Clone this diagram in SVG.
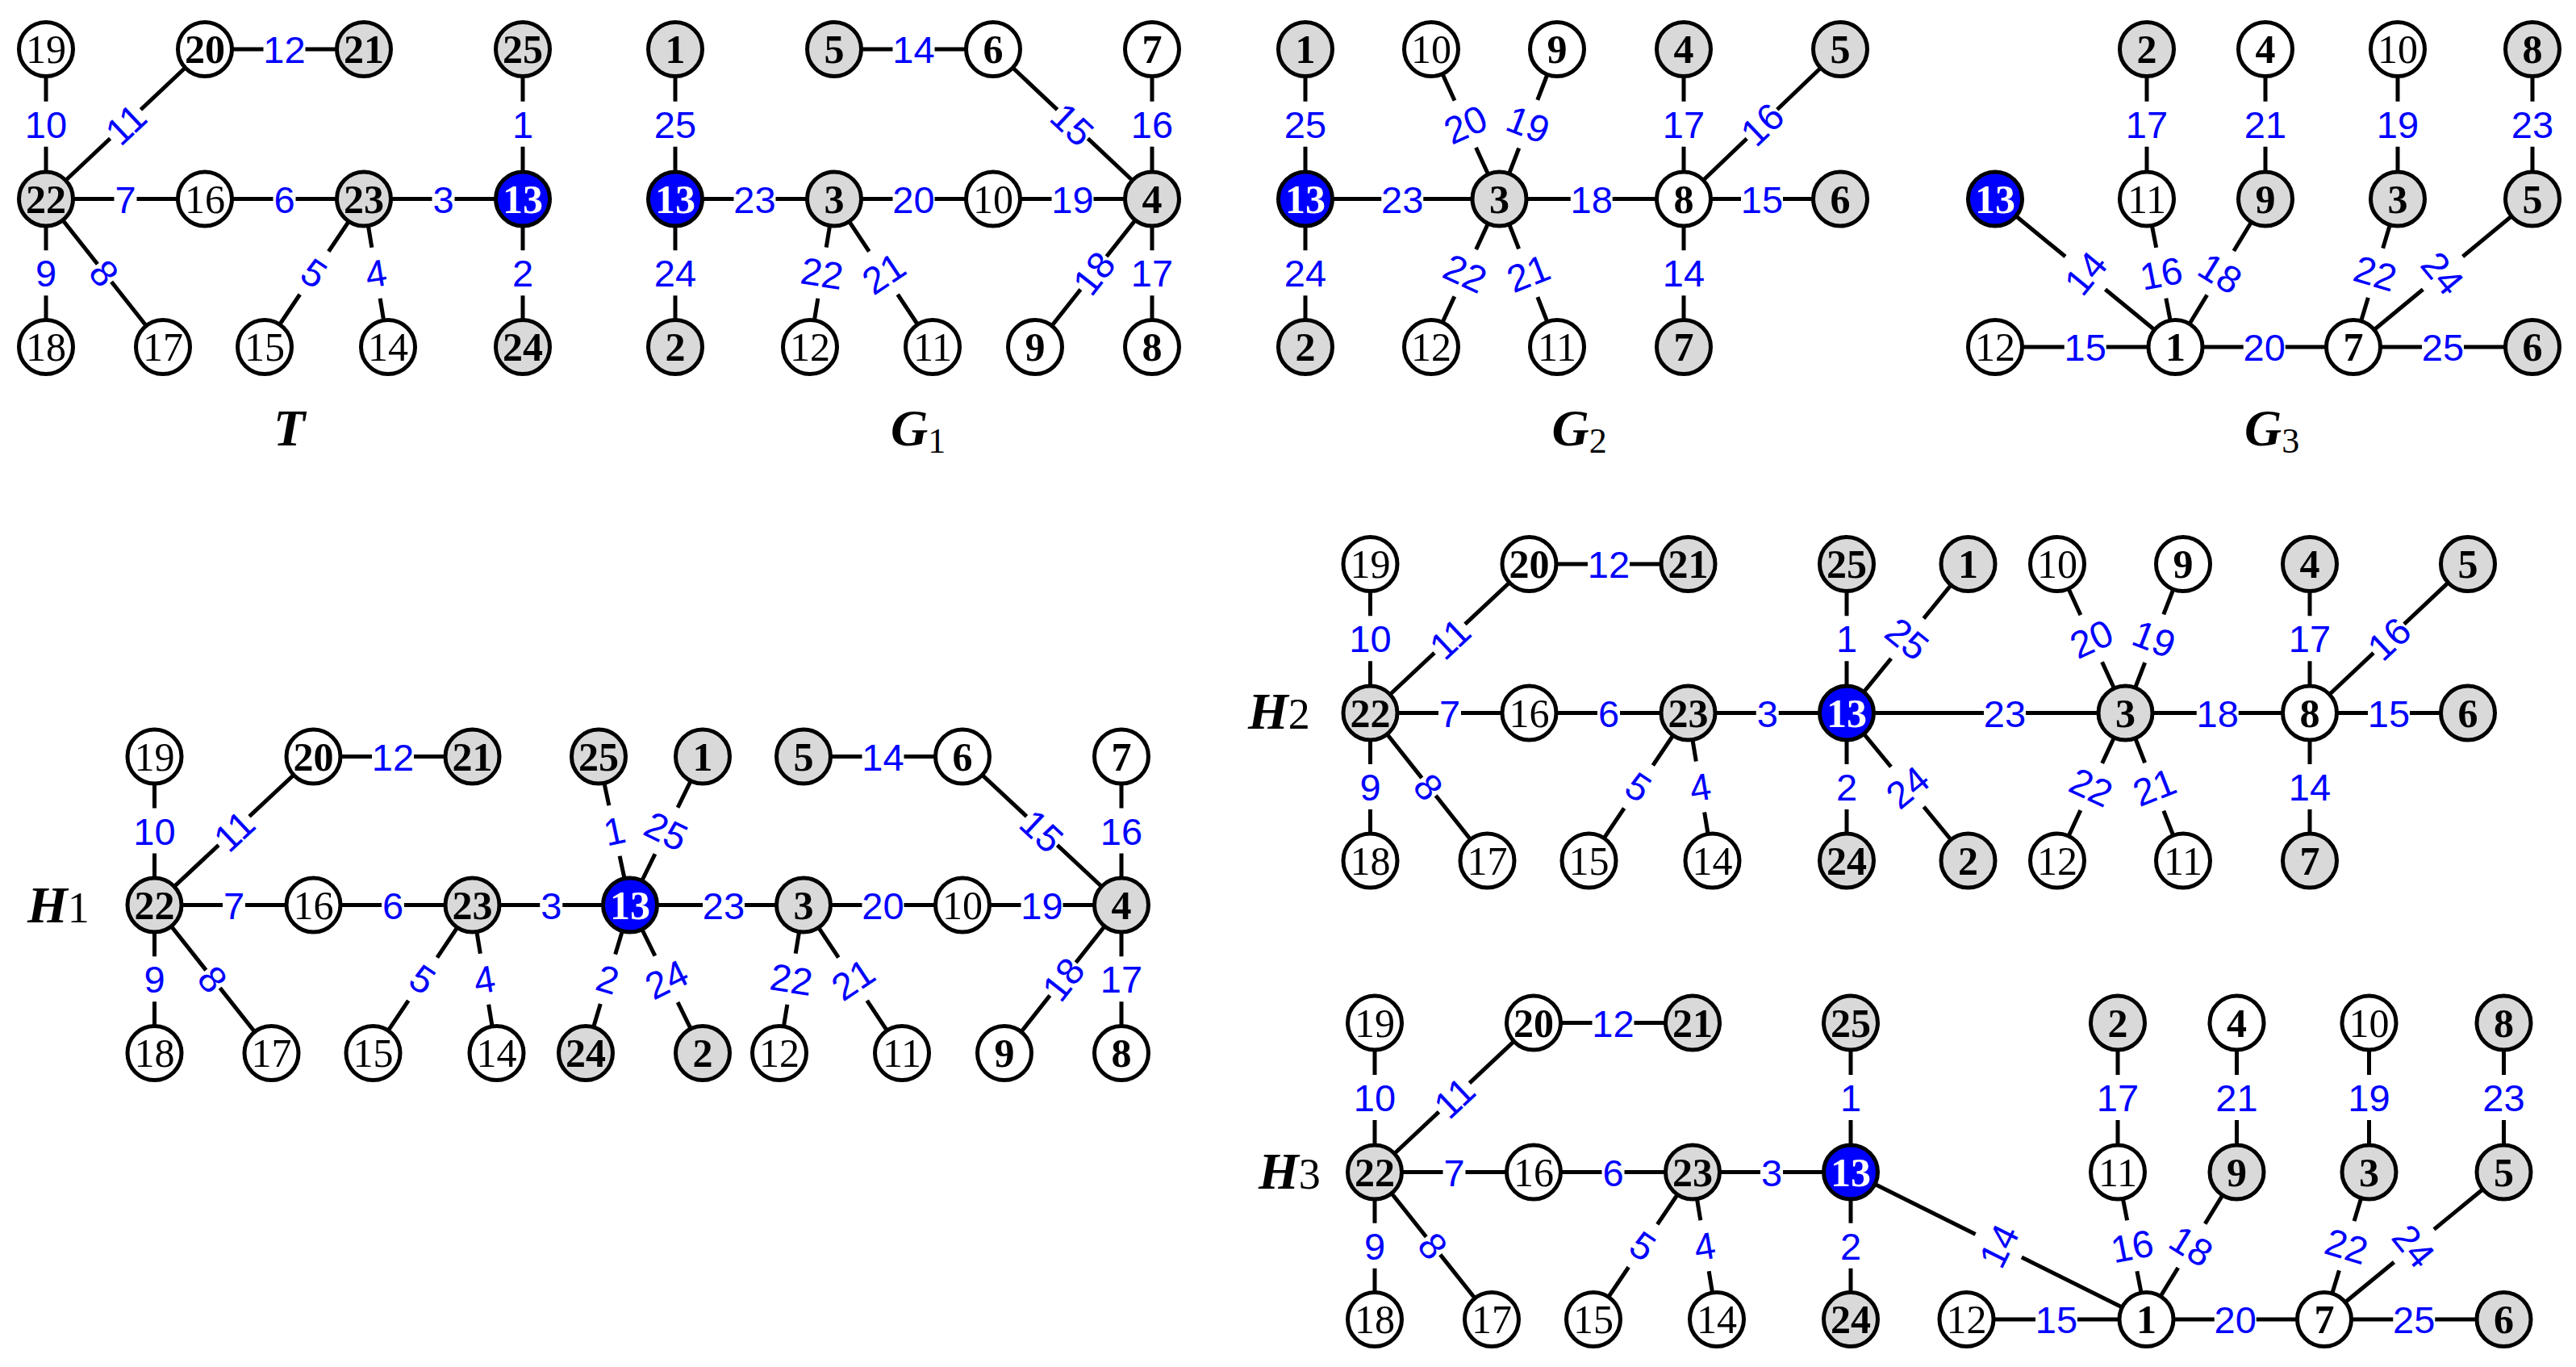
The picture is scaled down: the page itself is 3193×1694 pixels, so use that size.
<svg xmlns="http://www.w3.org/2000/svg" xmlns:xlink="http://www.w3.org/1999/xlink" width="3193" height="1694" viewBox="0 0 3193 1694">
<style>
.n circle{stroke:#000;stroke-width:5}
.w circle{fill:#fff}
.g circle{fill:#d9d9d9}
.b circle{fill:#0000ff}
.n text{font-family:"Liberation Serif","Times New Roman",serif;font-size:50px;font-weight:bold;text-anchor:middle;fill:#000}
.n text.r{font-weight:normal}
.b text{fill:#fff}
.e line{stroke:#000;stroke-width:5}
.l text{font-family:"Liberation Sans",Arial,sans-serif;font-size:47px;fill:#0000ff;text-anchor:middle}
.cap{font-family:"Liberation Serif","Times New Roman",serif;font-style:italic;font-weight:bold;font-size:64px;fill:#000}
.sub{font-style:normal;font-weight:normal;font-size:44px}
.hs{font-style:normal;font-weight:normal;font-size:54px}
</style>
<defs>
<rect id="r1" x="-14" y="-28" width="28" height="56" fill="#fff"/>
<rect id="r2" x="-26" y="-28" width="52" height="56" fill="#fff"/>
<rect id="q1" x="-14" y="-32" width="28" height="64" fill="#fff"/>
<rect id="q2" x="-26" y="-32" width="52" height="64" fill="#fff"/>
</defs>
<rect x="0" y="0" width="3193" height="1694" fill="#fff"/>

<g id="connectors">
<g class="e">
<!-- T -->
<line x1="57" y1="61" x2="57" y2="246.5"/>
<line x1="254" y1="61" x2="57" y2="246.5"/>
<line x1="254" y1="61" x2="451" y2="61"/>
<line x1="57" y1="246.5" x2="254" y2="246.5"/>
<line x1="254" y1="246.5" x2="451" y2="246.5"/>
<line x1="451" y1="246.5" x2="648" y2="246.5"/>
<line x1="648" y1="61" x2="648" y2="246.5"/>
<line x1="648" y1="246.5" x2="648" y2="430"/>
<line x1="57" y1="246.5" x2="57" y2="430"/>
<line x1="57" y1="246.5" x2="202" y2="430"/>
<line x1="451" y1="246.5" x2="328" y2="430"/>
<line x1="451" y1="246.5" x2="481" y2="430"/>
<!-- G1 -->
<line x1="837" y1="61" x2="837" y2="246.5"/>
<line x1="837" y1="246.5" x2="837" y2="430"/>
<line x1="837" y1="246.5" x2="1034" y2="246.5"/>
<line x1="1034" y1="61" x2="1231" y2="61"/>
<line x1="1231" y1="61" x2="1428" y2="246.5"/>
<line x1="1428" y1="61" x2="1428" y2="246.5"/>
<line x1="1034" y1="246.5" x2="1231" y2="246.5"/>
<line x1="1231" y1="246.5" x2="1428" y2="246.5"/>
<line x1="1034" y1="246.5" x2="1004" y2="430"/>
<line x1="1034" y1="246.5" x2="1156" y2="430"/>
<line x1="1428" y1="246.5" x2="1283" y2="430"/>
<line x1="1428" y1="246.5" x2="1428" y2="430"/>
<!-- G2 -->
<line x1="1618" y1="61" x2="1618" y2="246.5"/>
<line x1="1618" y1="246.5" x2="1618" y2="430"/>
<line x1="1618" y1="246.5" x2="1858.5" y2="246.5"/>
<line x1="1858.5" y1="246.5" x2="1774" y2="61"/>
<line x1="1858.5" y1="246.5" x2="1930" y2="61"/>
<line x1="1858.5" y1="246.5" x2="1774" y2="430"/>
<line x1="1858.5" y1="246.5" x2="1930" y2="430"/>
<line x1="1858.5" y1="246.5" x2="2087" y2="246.5"/>
<line x1="2087" y1="61" x2="2087" y2="246.5"/>
<line x1="2087" y1="246.5" x2="2281" y2="61"/>
<line x1="2087" y1="246.5" x2="2281" y2="246.5"/>
<line x1="2087" y1="246.5" x2="2087" y2="430"/>
<!-- G3 -->
<line x1="2661" y1="61" x2="2661" y2="246.5"/>
<line x1="2808" y1="61" x2="2808" y2="246.5"/>
<line x1="2972" y1="61" x2="2972" y2="246.5"/>
<line x1="3139" y1="61" x2="3139" y2="246.5"/>
<line x1="2473" y1="246.5" x2="2696.5" y2="430"/>
<line x1="2661" y1="246.5" x2="2696.5" y2="430"/>
<line x1="2808" y1="246.5" x2="2696.5" y2="430"/>
<line x1="2972" y1="246.5" x2="2917" y2="430"/>
<line x1="3139" y1="246.5" x2="2917" y2="430"/>
<line x1="2473" y1="430" x2="2696.5" y2="430"/>
<line x1="2696.5" y1="430" x2="2917" y2="430"/>
<line x1="2917" y1="430" x2="3139" y2="430"/>
<!-- H1 -->
<line x1="191.5" y1="937.5" x2="191.5" y2="1121.5"/>
<line x1="388.5" y1="937.5" x2="191.5" y2="1121.5"/>
<line x1="388.5" y1="937.5" x2="585.5" y2="937.5"/>
<line x1="191.5" y1="1121.5" x2="388.5" y2="1121.5"/>
<line x1="388.5" y1="1121.5" x2="585.5" y2="1121.5"/>
<line x1="585.5" y1="1121.5" x2="781" y2="1121.5"/>
<line x1="191.5" y1="1121.5" x2="191.5" y2="1305"/>
<line x1="191.5" y1="1121.5" x2="336.5" y2="1305"/>
<line x1="585.5" y1="1121.5" x2="462.5" y2="1305"/>
<line x1="585.5" y1="1121.5" x2="615.5" y2="1305"/>
<line x1="742" y1="937.5" x2="781" y2="1121.5"/>
<line x1="871" y1="937.5" x2="781" y2="1121.5"/>
<line x1="781" y1="1121.5" x2="726" y2="1305"/>
<line x1="781" y1="1121.5" x2="871" y2="1305"/>
<line x1="781" y1="1121.5" x2="996" y2="1121.5"/>
<line x1="996" y1="937.5" x2="1193" y2="937.5"/>
<line x1="1193" y1="937.5" x2="1390" y2="1121.5"/>
<line x1="1390" y1="937.5" x2="1390" y2="1121.5"/>
<line x1="996" y1="1121.5" x2="1193" y2="1121.5"/>
<line x1="1193" y1="1121.5" x2="1390" y2="1121.5"/>
<line x1="996" y1="1121.5" x2="966" y2="1305"/>
<line x1="996" y1="1121.5" x2="1118" y2="1305"/>
<line x1="1390" y1="1121.5" x2="1245" y2="1305"/>
<line x1="1390" y1="1121.5" x2="1390" y2="1305"/>
<!-- H2 -->
<line x1="1698.5" y1="699" x2="1698.5" y2="883.5"/>
<line x1="1895.5" y1="699" x2="1698.5" y2="883.5"/>
<line x1="1895.5" y1="699" x2="2092.5" y2="699"/>
<line x1="1698.5" y1="883.5" x2="1895.5" y2="883.5"/>
<line x1="1895.5" y1="883.5" x2="2092.5" y2="883.5"/>
<line x1="2092.5" y1="883.5" x2="2289" y2="883.5"/>
<line x1="1698.5" y1="883.5" x2="1698.5" y2="1066.5"/>
<line x1="1698.5" y1="883.5" x2="1843.5" y2="1066.5"/>
<line x1="2092.5" y1="883.5" x2="1969.5" y2="1066.5"/>
<line x1="2092.5" y1="883.5" x2="2122.5" y2="1066.5"/>
<line x1="2289" y1="699" x2="2289" y2="883.5"/>
<line x1="2289" y1="883.5" x2="2289" y2="1066.5"/>
<line x1="2289" y1="883.5" x2="2439.5" y2="699"/>
<line x1="2289" y1="883.5" x2="2439.5" y2="1066.5"/>
<line x1="2289" y1="883.5" x2="2634.5" y2="883.5"/>
<line x1="2634.5" y1="883.5" x2="2550" y2="699"/>
<line x1="2634.5" y1="883.5" x2="2706" y2="699"/>
<line x1="2634.5" y1="883.5" x2="2550" y2="1066.5"/>
<line x1="2634.5" y1="883.5" x2="2706" y2="1066.5"/>
<line x1="2634.5" y1="883.5" x2="2863" y2="883.5"/>
<line x1="2863" y1="699" x2="2863" y2="883.5"/>
<line x1="2863" y1="883.5" x2="3059" y2="699"/>
<line x1="2863" y1="883.5" x2="3059" y2="883.5"/>
<line x1="2863" y1="883.5" x2="2863" y2="1066.5"/>
<!-- H3 -->
<line x1="1704" y1="1267.5" x2="1704" y2="1452.5"/>
<line x1="1901" y1="1267.5" x2="1704" y2="1452.5"/>
<line x1="1901" y1="1267.5" x2="2098" y2="1267.5"/>
<line x1="1704" y1="1452.5" x2="1901" y2="1452.5"/>
<line x1="1901" y1="1452.5" x2="2098" y2="1452.5"/>
<line x1="2098" y1="1452.5" x2="2294" y2="1452.5"/>
<line x1="1704" y1="1452.5" x2="1704" y2="1635"/>
<line x1="1704" y1="1452.5" x2="1849" y2="1635"/>
<line x1="2098" y1="1452.5" x2="1975" y2="1635"/>
<line x1="2098" y1="1452.5" x2="2128" y2="1635"/>
<line x1="2294" y1="1267.5" x2="2294" y2="1452.5"/>
<line x1="2294" y1="1452.5" x2="2294" y2="1635"/>
<line x1="2294" y1="1452.5" x2="2660.5" y2="1635"/>
<line x1="2625" y1="1267.5" x2="2625" y2="1452.5"/>
<line x1="2772.5" y1="1267.5" x2="2772.5" y2="1452.5"/>
<line x1="2936.5" y1="1267.5" x2="2936.5" y2="1452.5"/>
<line x1="3103.5" y1="1267.5" x2="3103.5" y2="1452.5"/>
<line x1="2625" y1="1452.5" x2="2660.5" y2="1635"/>
<line x1="2772.5" y1="1452.5" x2="2660.5" y2="1635"/>
<line x1="2936.5" y1="1452.5" x2="2881" y2="1635"/>
<line x1="3103.5" y1="1452.5" x2="2881" y2="1635"/>
<line x1="2437.5" y1="1635" x2="2660.5" y2="1635"/>
<line x1="2660.5" y1="1635" x2="2881" y2="1635"/>
<line x1="2881" y1="1635" x2="3103.5" y2="1635"/>
</g>
<g class="l">
<!-- T labels -->
<g transform="translate(57,153.75)"><use href="#r2"/><text y="17">10</text></g>
<g transform="translate(155.5,153.75) rotate(-43.28)"><use href="#r2"/><text y="17">11</text></g>
<g transform="translate(352.5,61)"><use href="#r2"/><text y="17">12</text></g>
<g transform="translate(155.5,246.5)"><use href="#r1"/><text y="17">7</text></g>
<g transform="translate(352.5,246.5)"><use href="#r1"/><text y="17">6</text></g>
<g transform="translate(549.5,246.5)"><use href="#r1"/><text y="17">3</text></g>
<g transform="translate(648,153.75)"><use href="#r1"/><text y="17">1</text></g>
<g transform="translate(648,338.25)"><use href="#r1"/><text y="17">2</text></g>
<g transform="translate(57,338.25)"><use href="#r1"/><text y="17">9</text></g>
<g transform="translate(129.5,338.25) rotate(51.68)"><use href="#r1"/><text y="17">8</text></g>
<g transform="translate(389.5,338.25) rotate(33.84)"><use href="#q1"/><text y="17">5</text></g>
<g transform="translate(466,338.25) rotate(-9.29)"><use href="#q1"/><text y="17">4</text></g>
<!-- G1 labels -->
<g transform="translate(837,153.75)"><use href="#r2"/><text y="17">25</text></g>
<g transform="translate(837,338.25)"><use href="#r2"/><text y="17">24</text></g>
<g transform="translate(935.5,246.5)"><use href="#r2"/><text y="17">23</text></g>
<g transform="translate(1132.5,61)"><use href="#r2"/><text y="17">14</text></g>
<g transform="translate(1329.5,153.75) rotate(43.28)"><use href="#r2"/><text y="17">15</text></g>
<g transform="translate(1428,153.75)"><use href="#r2"/><text y="17">16</text></g>
<g transform="translate(1132.5,246.5)"><use href="#r2"/><text y="17">20</text></g>
<g transform="translate(1329.5,246.5)"><use href="#r2"/><text y="17">19</text></g>
<g transform="translate(1019,338.25) rotate(9.29)"><use href="#q2"/><text y="17">22</text></g>
<g transform="translate(1095,338.25) rotate(-33.62)"><use href="#q2"/><text y="17">21</text></g>
<g transform="translate(1355.5,338.25) rotate(-51.68)"><use href="#r2"/><text y="17">18</text></g>
<g transform="translate(1428,338.25)"><use href="#r2"/><text y="17">17</text></g>
<!-- G2 labels -->
<g transform="translate(1618,153.75)"><use href="#r2"/><text y="17">25</text></g>
<g transform="translate(1618,338.25)"><use href="#r2"/><text y="17">24</text></g>
<g transform="translate(1738.25,246.5)"><use href="#r2"/><text y="17">23</text></g>
<g transform="translate(1816.25,153.75) rotate(-24.49)"><use href="#q2"/><text y="17">20</text></g>
<g transform="translate(1894.25,153.75) rotate(21.08)"><use href="#q2"/><text y="17">19</text></g>
<g transform="translate(1816.25,338.25) rotate(24.73)"><use href="#q2"/><text y="17">22</text></g>
<g transform="translate(1894.25,338.25) rotate(-21.29)"><use href="#q2"/><text y="17">21</text></g>
<g transform="translate(1972.75,246.5)"><use href="#r2"/><text y="17">18</text></g>
<g transform="translate(2087,153.75)"><use href="#r2"/><text y="17">17</text></g>
<g transform="translate(2184,153.75) rotate(-43.72)"><use href="#r2"/><text y="17">16</text></g>
<g transform="translate(2184,246.5)"><use href="#r2"/><text y="17">15</text></g>
<g transform="translate(2087,338.25)"><use href="#r2"/><text y="17">14</text></g>
<!-- G3 labels -->
<g transform="translate(2661,153.75)"><use href="#r2"/><text y="17">17</text></g>
<g transform="translate(2808,153.75)"><use href="#r2"/><text y="17">21</text></g>
<g transform="translate(2972,153.75)"><use href="#r2"/><text y="17">19</text></g>
<g transform="translate(3139,153.75)"><use href="#r2"/><text y="17">23</text></g>
<g transform="translate(2584.75,338.25) rotate(-50.61)"><use href="#q2"/><text y="17">14</text></g>
<g transform="translate(2678.75,338.25) rotate(-10.95)"><use href="#q2"/><text y="17">16</text></g>
<g transform="translate(2752.25,338.25) rotate(31.28)"><use href="#q2"/><text y="17">18</text></g>
<g transform="translate(2944.5,338.25) rotate(16.69)"><use href="#q2"/><text y="17">22</text></g>
<g transform="translate(3028,338.25) rotate(50.42)"><use href="#q2"/><text y="17">24</text></g>
<g transform="translate(2584.75,430)"><use href="#r2"/><text y="17">15</text></g>
<g transform="translate(2806.75,430)"><use href="#r2"/><text y="17">20</text></g>
<g transform="translate(3028,430)"><use href="#r2"/><text y="17">25</text></g>
<!-- H1 labels -->
<g transform="translate(191.5,1029.5)"><use href="#r2"/><text y="17">10</text></g>
<g transform="translate(290,1029.5) rotate(-43.04)"><use href="#r2"/><text y="17">11</text></g>
<g transform="translate(487,937.5)"><use href="#r2"/><text y="17">12</text></g>
<g transform="translate(290,1121.5)"><use href="#r1"/><text y="17">7</text></g>
<g transform="translate(487,1121.5)"><use href="#r1"/><text y="17">6</text></g>
<g transform="translate(683.25,1121.5)"><use href="#r1"/><text y="17">3</text></g>
<g transform="translate(191.5,1213.25)"><use href="#r1"/><text y="17">9</text></g>
<g transform="translate(264,1213.25) rotate(51.68)"><use href="#r1"/><text y="17">8</text></g>
<g transform="translate(524,1213.25) rotate(33.84)"><use href="#q1"/><text y="17">5</text></g>
<g transform="translate(600.5,1213.25) rotate(-9.29)"><use href="#q1"/><text y="17">4</text></g>
<g transform="translate(761.5,1029.5) rotate(-11.97)"><use href="#q1"/><text y="17">1</text></g>
<g transform="translate(826,1029.5) rotate(26.07)"><use href="#q2"/><text y="17">25</text></g>
<g transform="translate(753.5,1213.25) rotate(16.69)"><use href="#q1"/><text y="17">2</text></g>
<g transform="translate(826,1213.25) rotate(-26.13)"><use href="#q2"/><text y="17">24</text></g>
<g transform="translate(897,1121.5)"><use href="#r2"/><text y="17">23</text></g>
<g transform="translate(1094.5,937.5)"><use href="#r2"/><text y="17">14</text></g>
<g transform="translate(1291.5,1029.5) rotate(43.04)"><use href="#r2"/><text y="17">15</text></g>
<g transform="translate(1390,1029.5)"><use href="#r2"/><text y="17">16</text></g>
<g transform="translate(1094.5,1121.5)"><use href="#r2"/><text y="17">20</text></g>
<g transform="translate(1291.5,1121.5)"><use href="#r2"/><text y="17">19</text></g>
<g transform="translate(981,1213.25) rotate(9.29)"><use href="#q2"/><text y="17">22</text></g>
<g transform="translate(1057,1213.25) rotate(-33.62)"><use href="#q2"/><text y="17">21</text></g>
<g transform="translate(1317.5,1213.25) rotate(-51.68)"><use href="#r2"/><text y="17">18</text></g>
<g transform="translate(1390,1213.25)"><use href="#r2"/><text y="17">17</text></g>
<!-- H2 labels -->
<g transform="translate(1698.5,791.25)"><use href="#r2"/><text y="17">10</text></g>
<g transform="translate(1797,791.25) rotate(-43.13)"><use href="#r2"/><text y="17">11</text></g>
<g transform="translate(1994,699)"><use href="#r2"/><text y="17">12</text></g>
<g transform="translate(1797,883.5)"><use href="#r1"/><text y="17">7</text></g>
<g transform="translate(1994,883.5)"><use href="#r1"/><text y="17">6</text></g>
<g transform="translate(2190.75,883.5)"><use href="#r1"/><text y="17">3</text></g>
<g transform="translate(1698.5,975)"><use href="#r1"/><text y="17">9</text></g>
<g transform="translate(1771,975) rotate(51.61)"><use href="#r1"/><text y="17">8</text></g>
<g transform="translate(2031,975) rotate(33.9)"><use href="#q1"/><text y="17">5</text></g>
<g transform="translate(2107.5,975) rotate(-9.31)"><use href="#q1"/><text y="17">4</text></g>
<g transform="translate(2289,791.25)"><use href="#r1"/><text y="17">1</text></g>
<g transform="translate(2289,975)"><use href="#r1"/><text y="17">2</text></g>
<g transform="translate(2364.25,791.25) rotate(39.2)"><use href="#q2"/><text y="17">25</text></g>
<g transform="translate(2364.25,975) rotate(-39.44)"><use href="#q2"/><text y="17">24</text></g>
<g transform="translate(2485,883.5)"><use href="#r2"/><text y="17">23</text></g>
<g transform="translate(2592.25,791.25) rotate(-24.61)"><use href="#q2"/><text y="17">20</text></g>
<g transform="translate(2670.25,791.25) rotate(21.18)"><use href="#q2"/><text y="17">19</text></g>
<g transform="translate(2592.25,975) rotate(24.79)"><use href="#q2"/><text y="17">22</text></g>
<g transform="translate(2670.25,975) rotate(-21.34)"><use href="#q2"/><text y="17">21</text></g>
<g transform="translate(2748.75,883.5)"><use href="#r2"/><text y="17">18</text></g>
<g transform="translate(2863,791.25)"><use href="#r2"/><text y="17">17</text></g>
<g transform="translate(2961,791.25) rotate(-43.27)"><use href="#r2"/><text y="17">16</text></g>
<g transform="translate(2961,883.5)"><use href="#r2"/><text y="17">15</text></g>
<g transform="translate(2863,975)"><use href="#r2"/><text y="17">14</text></g>
<!-- H3 labels -->
<g transform="translate(1704,1360)"><use href="#r2"/><text y="17">10</text></g>
<g transform="translate(1802.5,1360) rotate(-43.2)"><use href="#r2"/><text y="17">11</text></g>
<g transform="translate(1999.5,1267.5)"><use href="#r2"/><text y="17">12</text></g>
<g transform="translate(1802.5,1452.5)"><use href="#r1"/><text y="17">7</text></g>
<g transform="translate(1999.5,1452.5)"><use href="#r1"/><text y="17">6</text></g>
<g transform="translate(2196,1452.5)"><use href="#r1"/><text y="17">3</text></g>
<g transform="translate(1704,1543.75)"><use href="#r1"/><text y="17">9</text></g>
<g transform="translate(1776.5,1543.75) rotate(51.53)"><use href="#r1"/><text y="17">8</text></g>
<g transform="translate(2036.5,1543.75) rotate(33.98)"><use href="#q1"/><text y="17">5</text></g>
<g transform="translate(2113,1543.75) rotate(-9.34)"><use href="#q1"/><text y="17">4</text></g>
<g transform="translate(2294,1360)"><use href="#r1"/><text y="17">1</text></g>
<g transform="translate(2294,1543.75)"><use href="#r1"/><text y="17">2</text></g>
<g transform="translate(2477.25,1543.75) rotate(-63.53)"><use href="#q2"/><text y="17">14</text></g>
<g transform="translate(2625,1360)"><use href="#r2"/><text y="17">17</text></g>
<g transform="translate(2772.5,1360)"><use href="#r2"/><text y="17">21</text></g>
<g transform="translate(2936.5,1360)"><use href="#r2"/><text y="17">19</text></g>
<g transform="translate(3103.5,1360)"><use href="#r2"/><text y="17">23</text></g>
<g transform="translate(2642.75,1543.75) rotate(-11.01)"><use href="#q2"/><text y="17">16</text></g>
<g transform="translate(2716.5,1543.75) rotate(31.53)"><use href="#q2"/><text y="17">18</text></g>
<g transform="translate(2908.75,1543.75) rotate(16.92)"><use href="#q2"/><text y="17">22</text></g>
<g transform="translate(2992.25,1543.75) rotate(50.64)"><use href="#q2"/><text y="17">24</text></g>
<g transform="translate(2549,1635)"><use href="#r2"/><text y="17">15</text></g>
<g transform="translate(2770.75,1635)"><use href="#r2"/><text y="17">20</text></g>
<g transform="translate(2992.25,1635)"><use href="#r2"/><text y="17">25</text></g>
</g>
</g>

<!-- T nodes -->
<g id="T-19" class="n w" transform="translate(57,61)"><circle r="33.5"/><text class="r" y="17">19</text></g>
<g id="T-20" class="n w" transform="translate(254,61)"><circle r="33.5"/><text y="17">20</text></g>
<g id="T-21" class="n g" transform="translate(451,61)"><circle r="33.5"/><text y="17">21</text></g>
<g id="T-25" class="n g" transform="translate(648,61)"><circle r="33.5"/><text y="17">25</text></g>
<g id="T-22" class="n g" transform="translate(57,246.5)"><circle r="33.5"/><text y="17">22</text></g>
<g id="T-16" class="n w" transform="translate(254,246.5)"><circle r="33.5"/><text class="r" y="17">16</text></g>
<g id="T-23" class="n g" transform="translate(451,246.5)"><circle r="33.5"/><text y="17">23</text></g>
<g id="T-13" class="n b" transform="translate(648,246.5)"><circle r="33.5"/><text y="17">13</text></g>
<g id="T-18" class="n w" transform="translate(57,430)"><circle r="33.5"/><text class="r" y="17">18</text></g>
<g id="T-17" class="n w" transform="translate(202,430)"><circle r="33.5"/><text class="r" y="17">17</text></g>
<g id="T-15" class="n w" transform="translate(328,430)"><circle r="33.5"/><text class="r" y="17">15</text></g>
<g id="T-14" class="n w" transform="translate(481,430)"><circle r="33.5"/><text class="r" y="17">14</text></g>
<g id="T-24" class="n g" transform="translate(648,430)"><circle r="33.5"/><text y="17">24</text></g>
<text class="cap" x="358.6" y="552" text-anchor="middle">T</text>

<!-- G1 nodes -->
<g id="G1-1" class="n g" transform="translate(837,61)"><circle r="33.5"/><text y="17">1</text></g>
<g id="G1-5" class="n g" transform="translate(1034,61)"><circle r="33.5"/><text y="17">5</text></g>
<g id="G1-6" class="n w" transform="translate(1231,61)"><circle r="33.5"/><text y="17">6</text></g>
<g id="G1-7" class="n w" transform="translate(1428,61)"><circle r="33.5"/><text y="17">7</text></g>
<g id="G1-13" class="n b" transform="translate(837,246.5)"><circle r="33.5"/><text y="17">13</text></g>
<g id="G1-3" class="n g" transform="translate(1034,246.5)"><circle r="33.5"/><text y="17">3</text></g>
<g id="G1-10" class="n w" transform="translate(1231,246.5)"><circle r="33.5"/><text class="r" y="17">10</text></g>
<g id="G1-4" class="n g" transform="translate(1428,246.5)"><circle r="33.5"/><text y="17">4</text></g>
<g id="G1-2" class="n g" transform="translate(837,430)"><circle r="33.5"/><text y="17">2</text></g>
<g id="G1-12" class="n w" transform="translate(1004,430)"><circle r="33.5"/><text class="r" y="17">12</text></g>
<g id="G1-11" class="n w" transform="translate(1156,430)"><circle r="33.5"/><text class="r" y="17">11</text></g>
<g id="G1-9" class="n w" transform="translate(1283,430)"><circle r="33.5"/><text y="17">9</text></g>
<g id="G1-8" class="n w" transform="translate(1428,430)"><circle r="33.5"/><text y="17">8</text></g>
<text class="cap" x="1104" y="552">G<tspan class="sub" dy="9">1</tspan></text>

<!-- G2 nodes -->
<g id="G2-1" class="n g" transform="translate(1618,61)"><circle r="33.5"/><text y="17">1</text></g>
<g id="G2-10" class="n w" transform="translate(1774,61)"><circle r="33.5"/><text class="r" y="17">10</text></g>
<g id="G2-9" class="n w" transform="translate(1930,61)"><circle r="33.5"/><text y="17">9</text></g>
<g id="G2-4" class="n g" transform="translate(2087,61)"><circle r="33.5"/><text y="17">4</text></g>
<g id="G2-5" class="n g" transform="translate(2281,61)"><circle r="33.5"/><text y="17">5</text></g>
<g id="G2-13" class="n b" transform="translate(1618,246.5)"><circle r="33.5"/><text y="17">13</text></g>
<g id="G2-3" class="n g" transform="translate(1858.5,246.5)"><circle r="33.5"/><text y="17">3</text></g>
<g id="G2-8" class="n w" transform="translate(2087,246.5)"><circle r="33.5"/><text y="17">8</text></g>
<g id="G2-6" class="n g" transform="translate(2281,246.5)"><circle r="33.5"/><text y="17">6</text></g>
<g id="G2-2" class="n g" transform="translate(1618,430)"><circle r="33.5"/><text y="17">2</text></g>
<g id="G2-12" class="n w" transform="translate(1774,430)"><circle r="33.5"/><text class="r" y="17">12</text></g>
<g id="G2-11" class="n w" transform="translate(1930,430)"><circle r="33.5"/><text class="r" y="17">11</text></g>
<g id="G2-7" class="n g" transform="translate(2087,430)"><circle r="33.5"/><text y="17">7</text></g>
<text class="cap" x="1923.5" y="552">G<tspan class="sub" dy="9">2</tspan></text>

<!-- G3 nodes -->
<g id="G3-2" class="n g" transform="translate(2661,61)"><circle r="33.5"/><text y="17">2</text></g>
<g id="G3-4" class="n w" transform="translate(2808,61)"><circle r="33.5"/><text y="17">4</text></g>
<g id="G3-10" class="n w" transform="translate(2972,61)"><circle r="33.5"/><text class="r" y="17">10</text></g>
<g id="G3-8" class="n g" transform="translate(3139,61)"><circle r="33.5"/><text y="17">8</text></g>
<g id="G3-13" class="n b" transform="translate(2473,246.5)"><circle r="33.5"/><text y="17">13</text></g>
<g id="G3-11" class="n w" transform="translate(2661,246.5)"><circle r="33.5"/><text class="r" y="17">11</text></g>
<g id="G3-9" class="n g" transform="translate(2808,246.5)"><circle r="33.5"/><text y="17">9</text></g>
<g id="G3-3" class="n g" transform="translate(2972,246.5)"><circle r="33.5"/><text y="17">3</text></g>
<g id="G3-5" class="n g" transform="translate(3139,246.5)"><circle r="33.5"/><text y="17">5</text></g>
<g id="G3-12" class="n w" transform="translate(2473,430)"><circle r="33.5"/><text class="r" y="17">12</text></g>
<g id="G3-1" class="n w" transform="translate(2696.5,430)"><circle r="33.5"/><text y="17">1</text></g>
<g id="G3-7" class="n w" transform="translate(2917,430)"><circle r="33.5"/><text y="17">7</text></g>
<g id="G3-6" class="n g" transform="translate(3139,430)"><circle r="33.5"/><text y="17">6</text></g>
<text class="cap" x="2782" y="552">G<tspan class="sub" dy="9">3</tspan></text>

<!-- H1 nodes -->
<g id="H1-19" class="n w" transform="translate(191.5,937.5)"><circle r="33.5"/><text class="r" y="17">19</text></g>
<g id="H1-20" class="n w" transform="translate(388.5,937.5)"><circle r="33.5"/><text y="17">20</text></g>
<g id="H1-21" class="n g" transform="translate(585.5,937.5)"><circle r="33.5"/><text y="17">21</text></g>
<g id="H1-25" class="n g" transform="translate(742,937.5)"><circle r="33.5"/><text y="17">25</text></g>
<g id="H1-1" class="n g" transform="translate(871,937.5)"><circle r="33.5"/><text y="17">1</text></g>
<g id="H1-5" class="n g" transform="translate(996,937.5)"><circle r="33.5"/><text y="17">5</text></g>
<g id="H1-6" class="n w" transform="translate(1193,937.5)"><circle r="33.5"/><text y="17">6</text></g>
<g id="H1-7" class="n w" transform="translate(1390,937.5)"><circle r="33.5"/><text y="17">7</text></g>
<g id="H1-22" class="n g" transform="translate(191.5,1121.5)"><circle r="33.5"/><text y="17">22</text></g>
<g id="H1-16" class="n w" transform="translate(388.5,1121.5)"><circle r="33.5"/><text class="r" y="17">16</text></g>
<g id="H1-23" class="n g" transform="translate(585.5,1121.5)"><circle r="33.5"/><text y="17">23</text></g>
<g id="H1-13" class="n b" transform="translate(781,1121.5)"><circle r="33.5"/><text y="17">13</text></g>
<g id="H1-3" class="n g" transform="translate(996,1121.5)"><circle r="33.5"/><text y="17">3</text></g>
<g id="H1-10" class="n w" transform="translate(1193,1121.5)"><circle r="33.5"/><text class="r" y="17">10</text></g>
<g id="H1-4" class="n g" transform="translate(1390,1121.5)"><circle r="33.5"/><text y="17">4</text></g>
<g id="H1-18" class="n w" transform="translate(191.5,1305)"><circle r="33.5"/><text class="r" y="17">18</text></g>
<g id="H1-17" class="n w" transform="translate(336.5,1305)"><circle r="33.5"/><text class="r" y="17">17</text></g>
<g id="H1-15" class="n w" transform="translate(462.5,1305)"><circle r="33.5"/><text class="r" y="17">15</text></g>
<g id="H1-14" class="n w" transform="translate(615.5,1305)"><circle r="33.5"/><text class="r" y="17">14</text></g>
<g id="H1-24" class="n g" transform="translate(726,1305)"><circle r="33.5"/><text y="17">24</text></g>
<g id="H1-2" class="n g" transform="translate(871,1305)"><circle r="33.5"/><text y="17">2</text></g>
<g id="H1-12" class="n w" transform="translate(966,1305)"><circle r="33.5"/><text class="r" y="17">12</text></g>
<g id="H1-11" class="n w" transform="translate(1118,1305)"><circle r="33.5"/><text class="r" y="17">11</text></g>
<g id="H1-9" class="n w" transform="translate(1245,1305)"><circle r="33.5"/><text y="17">9</text></g>
<g id="H1-8" class="n w" transform="translate(1390,1305)"><circle r="33.5"/><text y="17">8</text></g>
<text class="cap" x="34" y="1143">H<tspan class="hs">1</tspan></text>

<!-- H2 nodes -->
<g id="H2-19" class="n w" transform="translate(1698.5,699)"><circle r="33.5"/><text class="r" y="17">19</text></g>
<g id="H2-20" class="n w" transform="translate(1895.5,699)"><circle r="33.5"/><text y="17">20</text></g>
<g id="H2-21" class="n g" transform="translate(2092.5,699)"><circle r="33.5"/><text y="17">21</text></g>
<g id="H2-25" class="n g" transform="translate(2289,699)"><circle r="33.5"/><text y="17">25</text></g>
<g id="H2-1" class="n g" transform="translate(2439.5,699)"><circle r="33.5"/><text y="17">1</text></g>
<g id="H2-10" class="n w" transform="translate(2550,699)"><circle r="33.5"/><text class="r" y="17">10</text></g>
<g id="H2-9" class="n w" transform="translate(2706,699)"><circle r="33.5"/><text y="17">9</text></g>
<g id="H2-4" class="n g" transform="translate(2863,699)"><circle r="33.5"/><text y="17">4</text></g>
<g id="H2-5" class="n g" transform="translate(3059,699)"><circle r="33.5"/><text y="17">5</text></g>
<g id="H2-22" class="n g" transform="translate(1698.5,883.5)"><circle r="33.5"/><text y="17">22</text></g>
<g id="H2-16" class="n w" transform="translate(1895.5,883.5)"><circle r="33.5"/><text class="r" y="17">16</text></g>
<g id="H2-23" class="n g" transform="translate(2092.5,883.5)"><circle r="33.5"/><text y="17">23</text></g>
<g id="H2-13" class="n b" transform="translate(2289,883.5)"><circle r="33.5"/><text y="17">13</text></g>
<g id="H2-3" class="n g" transform="translate(2634.5,883.5)"><circle r="33.5"/><text y="17">3</text></g>
<g id="H2-8" class="n w" transform="translate(2863,883.5)"><circle r="33.5"/><text y="17">8</text></g>
<g id="H2-6" class="n g" transform="translate(3059,883.5)"><circle r="33.5"/><text y="17">6</text></g>
<g id="H2-18" class="n w" transform="translate(1698.5,1066.5)"><circle r="33.5"/><text class="r" y="17">18</text></g>
<g id="H2-17" class="n w" transform="translate(1843.5,1066.5)"><circle r="33.5"/><text class="r" y="17">17</text></g>
<g id="H2-15" class="n w" transform="translate(1969.5,1066.5)"><circle r="33.5"/><text class="r" y="17">15</text></g>
<g id="H2-14" class="n w" transform="translate(2122.5,1066.5)"><circle r="33.5"/><text class="r" y="17">14</text></g>
<g id="H2-24" class="n g" transform="translate(2289,1066.5)"><circle r="33.5"/><text y="17">24</text></g>
<g id="H2-2" class="n g" transform="translate(2439.5,1066.5)"><circle r="33.5"/><text y="17">2</text></g>
<g id="H2-12" class="n w" transform="translate(2550,1066.5)"><circle r="33.5"/><text class="r" y="17">12</text></g>
<g id="H2-11" class="n w" transform="translate(2706,1066.5)"><circle r="33.5"/><text class="r" y="17">11</text></g>
<g id="H2-7" class="n g" transform="translate(2863,1066.5)"><circle r="33.5"/><text y="17">7</text></g>
<text class="cap" x="1547" y="903">H<tspan class="hs">2</tspan></text>

<!-- H3 nodes -->
<g id="H3-19" class="n w" transform="translate(1704,1267.5)"><circle r="33.5"/><text class="r" y="17">19</text></g>
<g id="H3-20" class="n w" transform="translate(1901,1267.5)"><circle r="33.5"/><text y="17">20</text></g>
<g id="H3-21" class="n g" transform="translate(2098,1267.5)"><circle r="33.5"/><text y="17">21</text></g>
<g id="H3-25" class="n g" transform="translate(2294,1267.5)"><circle r="33.5"/><text y="17">25</text></g>
<g id="H3-2" class="n g" transform="translate(2625,1267.5)"><circle r="33.5"/><text y="17">2</text></g>
<g id="H3-4" class="n w" transform="translate(2772.5,1267.5)"><circle r="33.5"/><text y="17">4</text></g>
<g id="H3-10" class="n w" transform="translate(2936.5,1267.5)"><circle r="33.5"/><text class="r" y="17">10</text></g>
<g id="H3-8" class="n g" transform="translate(3103.5,1267.5)"><circle r="33.5"/><text y="17">8</text></g>
<g id="H3-22" class="n g" transform="translate(1704,1452.5)"><circle r="33.5"/><text y="17">22</text></g>
<g id="H3-16" class="n w" transform="translate(1901,1452.5)"><circle r="33.5"/><text class="r" y="17">16</text></g>
<g id="H3-23" class="n g" transform="translate(2098,1452.5)"><circle r="33.5"/><text y="17">23</text></g>
<g id="H3-13" class="n b" transform="translate(2294,1452.5)"><circle r="33.5"/><text y="17">13</text></g>
<g id="H3-11" class="n w" transform="translate(2625,1452.5)"><circle r="33.5"/><text class="r" y="17">11</text></g>
<g id="H3-9" class="n g" transform="translate(2772.5,1452.5)"><circle r="33.5"/><text y="17">9</text></g>
<g id="H3-3" class="n g" transform="translate(2936.5,1452.5)"><circle r="33.5"/><text y="17">3</text></g>
<g id="H3-5" class="n g" transform="translate(3103.5,1452.5)"><circle r="33.5"/><text y="17">5</text></g>
<g id="H3-18" class="n w" transform="translate(1704,1635)"><circle r="33.5"/><text class="r" y="17">18</text></g>
<g id="H3-17" class="n w" transform="translate(1849,1635)"><circle r="33.5"/><text class="r" y="17">17</text></g>
<g id="H3-15" class="n w" transform="translate(1975,1635)"><circle r="33.5"/><text class="r" y="17">15</text></g>
<g id="H3-14" class="n w" transform="translate(2128,1635)"><circle r="33.5"/><text class="r" y="17">14</text></g>
<g id="H3-24" class="n g" transform="translate(2294,1635)"><circle r="33.5"/><text y="17">24</text></g>
<g id="H3-12" class="n w" transform="translate(2437.5,1635)"><circle r="33.5"/><text class="r" y="17">12</text></g>
<g id="H3-1" class="n w" transform="translate(2660.5,1635)"><circle r="33.5"/><text y="17">1</text></g>
<g id="H3-7" class="n w" transform="translate(2881,1635)"><circle r="33.5"/><text y="17">7</text></g>
<g id="H3-6" class="n g" transform="translate(3103.5,1635)"><circle r="33.5"/><text y="17">6</text></g>
<text class="cap" x="1560" y="1473">H<tspan class="hs">3</tspan></text>
</svg>
